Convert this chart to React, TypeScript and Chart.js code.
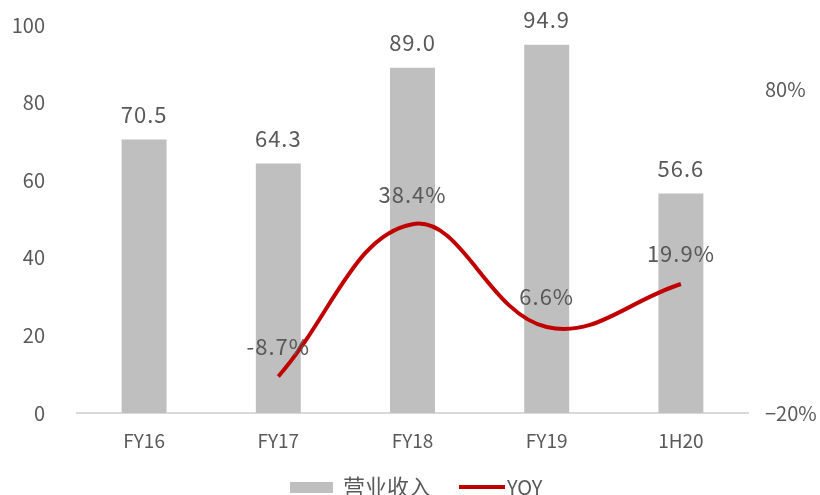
import { useEffect, useRef } from "react";
import { Chart, registerables } from "chart.js";

Chart.register(...registerables);

// Revenue (bars, left axis) and year-on-year growth (line, right axis, %)
const categories = ["FY16", "FY17", "FY18", "FY19", "1H20"];
const revenue = [70.5, 64.3, 89.0, 94.9, 56.6];
const yoy: (number | null)[] = [null, -8.7, 38.4, 6.6, 19.9];
const leftTicks = [0, 20, 40, 60, 80, 100];
const rightTicks = [-20, 80];
const seriesNames = ["营业收入", "YOY"];

const BAR_COLOR = "#BFBFBF";
const LINE_COLOR = "#C00000";
const TEXT_COLOR = "#595959";
const CJK = '"Noto Sans CJK SC", "Noto Sans", sans-serif';

const valueLabels = {
  id: "valueLabels",
  afterDatasetsDraw(chart: Chart) {
    const ctx = chart.ctx;
    ctx.save();
    ctx.fillStyle = TEXT_COLOR;
    ctx.font = `22px ${CJK}`;
    ctx.textAlign = "center";
    ctx.textBaseline = "middle";
    (ctx as any).letterSpacing = "1px";
    chart.getDatasetMeta(0).data.forEach((el: any, i) => {
      ctx.fillText(revenue[i].toFixed(1), el.x, el.y - 25);
    });
    chart.getDatasetMeta(1).data.forEach((el: any, i) => {
      const v = yoy[i];
      if (v === null) return;
      ctx.fillText(`${v.toFixed(1)}%`, el.x, el.y - 30);
    });
    ctx.restore();
  },
};

const bottomLegend = {
  id: "bottomLegend",
  afterDraw(chart: Chart) {
    const ctx = chart.ctx;
    const y = 487;
    ctx.save();
    ctx.font = `22px ${CJK}`;
    ctx.textBaseline = "middle";
    ctx.textAlign = "left";
    // bar swatch
    ctx.fillStyle = BAR_COLOR;
    ctx.fillRect(290, y - 5, 43, 11);
    ctx.fillStyle = TEXT_COLOR;
    ctx.fillText(seriesNames[0], 343, y);
    // line swatch
    ctx.strokeStyle = LINE_COLOR;
    ctx.lineWidth = 4;
    ctx.beginPath();
    ctx.moveTo(459, y);
    ctx.lineTo(505, y);
    ctx.stroke();
    ctx.font = `20px ${CJK}`;
    ctx.fillText(seriesNames[1], 507, y);
    ctx.restore();
  },
};

export default function App() {
  const canvasRef = useRef<HTMLCanvasElement | null>(null);

  useEffect(() => {
    if (!canvasRef.current) return;
    const chart = new Chart(canvasRef.current, {
      type: "bar",
      data: {
        labels: categories,
        datasets: [
          {
            type: "bar",
            label: seriesNames[0],
            data: revenue,
            yAxisID: "y",
            backgroundColor: BAR_COLOR,
            barPercentage: 0.335,
            categoryPercentage: 1,
            order: 1,
          },
          {
            type: "line",
            label: seriesNames[1],
            data: yoy,
            yAxisID: "y1",
            borderColor: LINE_COLOR,
            backgroundColor: LINE_COLOR,
            borderWidth: 4,
            pointRadius: 0,
            tension: 0.4,
            order: 0,
          } as any,
        ],
      },
      options: {
        responsive: false,
        animation: false,
        layout: { padding: { top: 25, left: 0, right: 0, bottom: 0 } },
        plugins: {
          legend: { display: false },
          tooltip: { enabled: false },
        },
        scales: {
          x: {
            grid: { display: false, drawTicks: false },
            border: { display: true, color: "#D9D9D9", width: 2 },
            ticks: {
              color: TEXT_COLOR,
              font: { family: CJK, size: 19 },
              padding: 16,
            },
            afterFit(scale: any) {
              scale.height = 82;
            },
          },
          y: {
            position: "left",
            min: 0,
            max: 100,
            grid: { display: false, drawTicks: false },
            border: { display: false },
            afterBuildTicks(scale: any) {
              scale.ticks = leftTicks.map((value) => ({ value }));
            },
            ticks: {
              color: TEXT_COLOR,
              font: { family: CJK, size: 20 },
              padding: 32,
            },
            afterFit(scale: any) {
              scale.width = 77;
              scale.paddingTop = 0;
              scale.paddingBottom = 0;
            },
          },
          y1: {
            position: "right",
            min: -20,
            max: 100,
            grid: { display: false, drawTicks: false },
            border: { display: false },
            afterBuildTicks(scale: any) {
              scale.ticks = rightTicks.map((value) => ({ value }));
            },
            ticks: {
              color: TEXT_COLOR,
              font: { family: CJK, size: 20 },
              padding: 17,
              callback: (v: any) => `${Number(v) < 0 ? "−" + Math.abs(Number(v)) : v}%`,
            },
            afterFit(scale: any) {
              scale.width = 72;
              scale.paddingTop = 0;
              scale.paddingBottom = 0;
            },
          },
        },
      },
      plugins: [valueLabels, bottomLegend],
    });
    return () => chart.destroy();
  }, []);

  return (
    <div style={{ position: "fixed", left: 0, top: 0, width: 820, height: 495, background: "#fff" }}>
      <canvas ref={canvasRef} width={820} height={495} />
    </div>
  );
}
